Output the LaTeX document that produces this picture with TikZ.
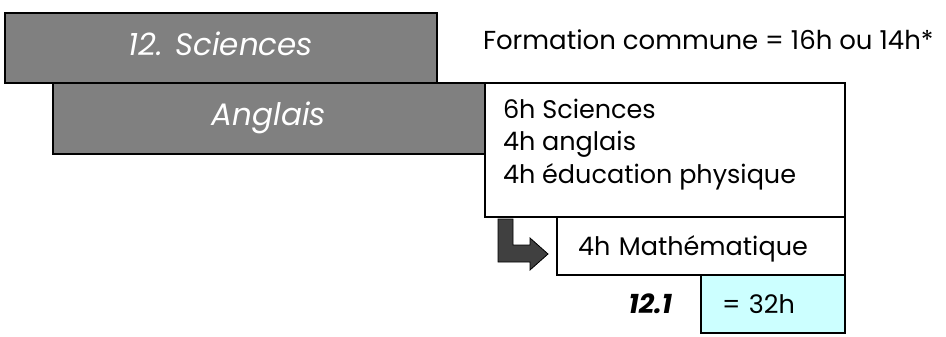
\documentclass[tikz,border=0pt]{standalone}
\usepackage{fontspec}
\setmainfont{Poppins}
\usetikzlibrary{positioning}
\definecolor{boxgray}{HTML}{808080}
\definecolor{totalcyan}{HTML}{CCFFFF}
\definecolor{arrowgray}{HTML}{404040}
\tikzset{
  every node/.style={inner sep=0pt, outer sep=0pt},
  headbox/.style={draw, line width=1.6pt, fill=boxgray, anchor=north west, minimum width=432pt, minimum height=70pt, text=white, font=\fontsize{31}{36}\selectfont\itshape, text height=22pt, text depth=7.5pt},
  listbox/.style={draw, line width=1.6pt, fill=white, anchor=north west, minimum width=360pt, minimum height=134pt},
  hourbox/.style={draw, line width=1.6pt, anchor=north west, inner xsep=21pt, align=left, minimum height=58pt, font=\fontsize{25.5}{32.5}\selectfont, text height=24pt, text depth=6pt},
  bodytext/.style={font=\fontsize{25.5}{32.5}\selectfont},
}
\begin{document}
\begin{tikzpicture}[x=1pt, y=-1pt]
\useasboundingbox (0,0) rectangle (946,337);
% tronc commun
\node[headbox] (sciences) at (5,13) {12. Sciences};
\node[headbox, minimum height=71pt] (anglais) at (53,83) {Anglais};
\node[listbox] (common) at (485,83) {};
\node[bodytext, anchor=base west, align=left] (commonlist) at (503,183) {6h Sciences\\4h anglais\\4h éducation physique};
\node[bodytext, font=\fontsize{26}{32}\selectfont, anchor=base west] (title) at (483,50) {Formation commune = 16h ou 14h*};
% option
\node[hourbox, fill=white, text width=246pt] (math) at (557,217) {4h Mathématique};
\node[hourbox, fill=totalcyan, text width=102pt] (total) at (701,275) {= 32h};
\node[font=\fontsize{27}{30}\selectfont\bfseries\itshape, text height=24pt, text depth=6pt, left=29pt of total] (option) {12.1};
% fleche
\draw[line width=0.8pt, fill=arrowgray] (498,219) -- (513,219) -- (513,245) -- (530,245) -- (530,238) -- (548,254) -- (530,270) -- (530,262) -- (498,262) -- cycle;
\end{tikzpicture}
\end{document}
